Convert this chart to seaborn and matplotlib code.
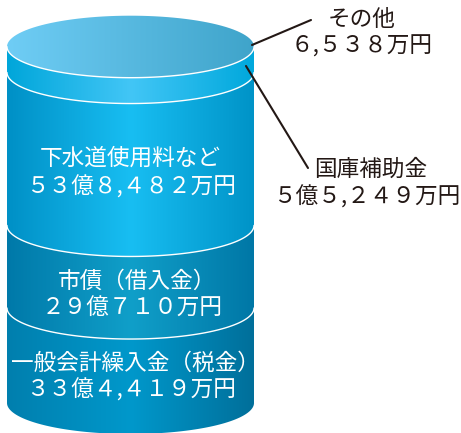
import numpy as np
import seaborn as sns
from matplotlib import pyplot as plt
from matplotlib.patches import PathPatch
from matplotlib.path import Path

sns.set_theme(style="white")
plt.rcParams['font.family'] = ['Noto Sans CJK JP', 'DejaVu Sans']

# amounts in 万円, stacked from the bottom of the tank
names = ["一般会計繰入金(税金)", "市債(借入金)", "下水道使用料など", "国庫補助金"]
amounts = [334419, 290710, 538482, 55249]
other_amount = 6538
# the thin band is drawn taller than its amount in the original
min_band = 91000

band_colors = [
    ["#007fae", "#0098cb", "#006f9a"],
    ["#0079a9", "#109fc9", "#0077a6"],
    ["#0090c6", "#18bef2", "#0093c7"],
    ["#00a6da", "#42c6f6", "#00a8dc"],
]
face_colors = ["#6fcdf5", "#3fa4ca"]

fig = plt.figure(figsize=(4.61, 4.33), dpi=100)
ax = fig.add_axes([0, 0, 1, 1])

units_per_px = 1000 / 0.284
ry = 31 * units_per_px


def at(px, py):
    """pixel position in the picture -> axes fraction"""
    return px / 461, 1 - py / 433


def paint(path, colors):
    cmap = sns.blend_palette(colors, as_cmap=True)
    grad = np.linspace(0, 1, 256).reshape(1, -1)
    img = ax.imshow(grad, cmap=cmap, aspect="auto", extent=(-0.5, 0.5, -ry, 2e6), zorder=2)
    img.set_clip_path(PathPatch(path, transform=ax.transData))


def ellipse_arc(cy, start, stop):
    t = np.linspace(start, stop, 120)
    return np.column_stack([0.5 * np.cos(t), cy + ry * np.sin(t)])


bottom = 0
for amount, colors in zip(amounts, band_colors):
    height = max(amount, min_band)
    sns.barplot(x=["tank"], y=[height], bottom=bottom, width=1, color=colors[1], ax=ax, zorder=1)
    top = bottom + height
    lower = ellipse_arc(bottom, np.pi, 2 * np.pi)
    outline = np.vstack([[-0.5, top], lower, [0.5, top], [-0.5, top]])
    paint(Path(outline), colors)
    if bottom > 0:
        ax.plot(lower[:, 0], lower[:, 1], color="white", lw=1, zorder=3)
    bottom = top

# the top face carries the smallest item
face = ellipse_arc(bottom, 0, 2 * np.pi)
paint(Path(face), face_colors)
rim = ellipse_arc(bottom, np.pi, 2 * np.pi)
ax.plot(rim[:, 0], rim[:, 1], color="white", lw=1, zorder=3)

ax.set_xlim(-0.5 - 7 / 247, 0.5 + 207 / 247)
ax.set_ylim(-30 * units_per_px, 403 * units_per_px)
ax.axis("off")

labels = [
    ("その他", 362, 19, "#231815"),
    ("６,５３８万円", 362, 46, "#231815"),
    ("国庫補助金", 371, 169, "#231815"),
    ("５億５,２４９万円", 367, 197, "#231815"),
    ("下水道使用料など", 130, 158, "white"),
    ("５３億８,４８２万円", 131, 187, "white"),
    ("市債（借入金）", 137, 281, "white"),
    ("２９億７１０万円", 132, 308, "white"),
    ("一般会計繰入金（税金）", 135, 363, "white"),
    ("３３億４,４１９万円", 131, 390, "white"),
]
for text, px, py, color in labels:
    ax.text(*at(px, py), text, transform=ax.transAxes, ha="center", va="center",
            fontsize=16.3, color=color, zorder=5)

for start, end in [((252, 45), (311, 20)), ((246, 66), (308, 168))]:
    ax.annotate("", xy=at(*start), xytext=at(*end), xycoords="axes fraction", textcoords="axes fraction",
                arrowprops=dict(arrowstyle="-", color="#231815", lw=1.5, shrinkA=0, shrinkB=0), zorder=5)

fig.savefig("out.png", dpi=100)
